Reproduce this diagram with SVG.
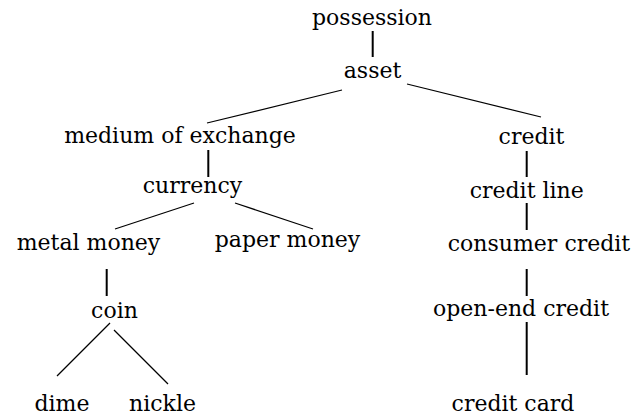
<svg xmlns="http://www.w3.org/2000/svg" width="639" height="416" viewBox="0 0 639 416">
<style>
.t text{font-size:22px;fill:#000;text-anchor:middle}
.e{stroke:#000;fill:none}
.v{stroke-width:2}
.d{stroke-width:1.2}
</style>
<rect width="639" height="416" fill="#fff"/>
<g id="connectors">
<line class="e v" x1="372.7" y1="31" x2="372.7" y2="57"/>
<line class="e d" x1="342" y1="90" x2="207" y2="123"/>
<line class="e d" x1="407" y1="84" x2="541" y2="117"/>
<line class="e v" x1="208.3" y1="150" x2="208.3" y2="177"/>
<line class="e d" x1="194" y1="203" x2="115" y2="229"/>
<line class="e d" x1="235" y1="203" x2="313" y2="229"/>
<line class="e v" x1="106.7" y1="269" x2="106.7" y2="296"/>
<line class="e d" x1="110" y1="323" x2="57" y2="376"/>
<line class="e d" x1="114" y1="330" x2="168" y2="384"/>
<line class="e v" x1="526.7" y1="151" x2="526.7" y2="177"/>
<line class="e v" x1="526.7" y1="203" x2="526.7" y2="230"/>
<line class="e v" x1="526.7" y1="269" x2="526.7" y2="296"/>
<line class="e v" x1="526.7" y1="322" x2="526.7" y2="375"/>
</g>
<g class="t" font-family="'DejaVu Serif', 'Liberation Serif', serif">
<g id="possession"><text x="372" y="25">possession</text></g>
<g id="asset"><text x="372.5" y="78">asset</text></g>
<g id="medium-of-exchange"><text x="180" y="143">medium of exchange</text></g>
<g id="credit"><text x="531.5" y="144">credit</text></g>
<g id="currency"><text x="192.5" y="193">currency</text></g>
<g id="credit-line"><text x="526.7" y="198">credit line</text></g>
<g id="metal-money"><text x="88.5" y="250">metal money</text></g>
<g id="paper-money"><text x="287.5" y="247">paper money</text></g>
<g id="consumer-credit"><text x="539" y="251">consumer credit</text></g>
<g id="coin"><text x="114.5" y="318">coin</text></g>
<g id="open-end-credit"><text x="521" y="316">open-end credit</text></g>
<g id="dime"><text x="62" y="411">dime</text></g>
<g id="nickle"><text x="162.5" y="411">nickle</text></g>
<g id="credit-card"><text x="513" y="411">credit card</text></g>
</g>
</svg>
